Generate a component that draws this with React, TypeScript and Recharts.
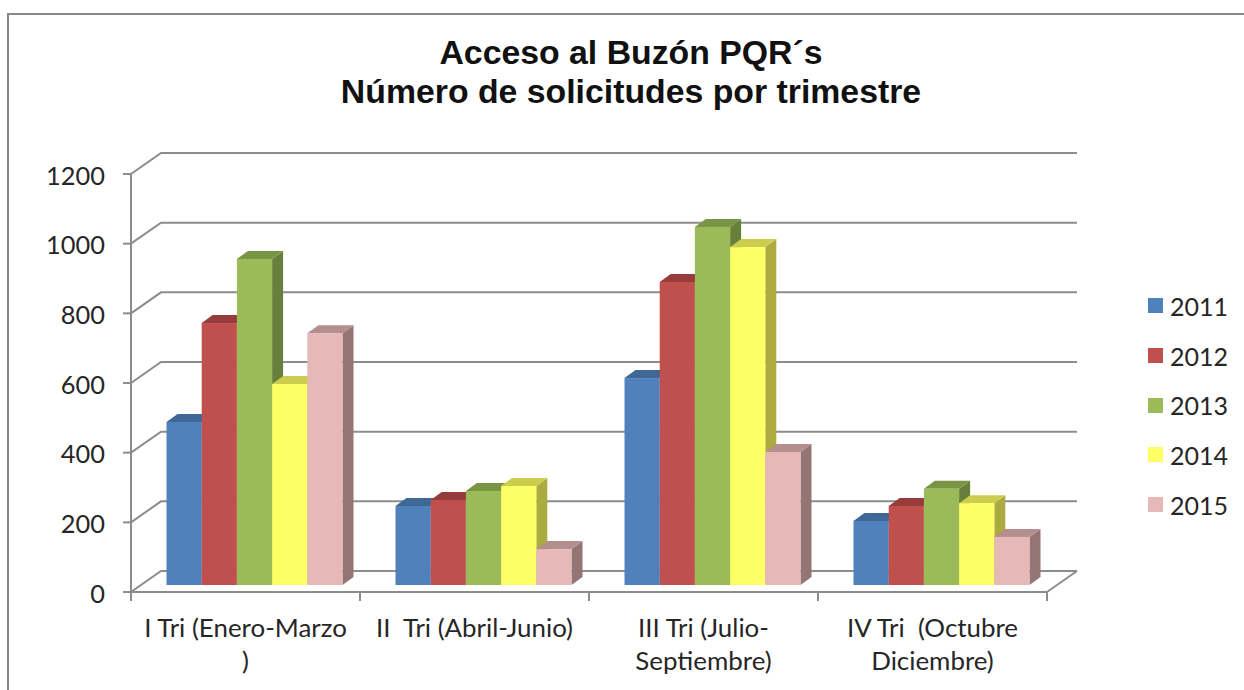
import React from "react";
import { ComposedChart, Bar, XAxis, YAxis, CartesianGrid, Legend } from "recharts";

const categories = [
  "I Tri (Enero-Marzo\n)",
  "II  Tri (Abril-Junio)",
  "III Tri (Julio-\nSeptiembre)",
  "IV Tri  (Octubre\nDiciembre)",
];
const v2011 = [468, 227, 594, 184];
const v2012 = [752, 244, 870, 227];
const v2013 = [936, 270, 1028, 276];
const v2014 = [577, 284, 970, 235];
const v2015 = [723, 103, 382, 138];
const yTicks = [0, 200, 400, 600, 800, 1000, 1200];
const titleLines = ["Acceso al Buzón PQR´s", "Número de solicitudes por trimestre"];

const seriesList = [
  { key: "2011", values: v2011, front: "#4F81BD", top: "#3F6797", side: "#3A5F8D" },
  { key: "2012", values: v2012, front: "#C0504D", top: "#963D3B", side: "#8F3B39" },
  { key: "2013", values: v2013, front: "#9BBB59", top: "#7A9446", side: "#667F3A" },
  { key: "2014", values: v2014, front: "#FFFF66", top: "#CCCC4F", side: "#ABAB3F" },
  { key: "2015", values: v2015, front: "#E6B9B8", top: "#B48F8E", side: "#957573" },
];

const rows = categories.map((name, i) => {
  const row: Record<string, string | number> = { name };
  seriesList.forEach((s) => (row[s.key] = s.values[i]));
  return row;
});

const W = 1244;
const H = 690;
const LEFT = 131;
const RIGHT = 1047;
const TOP = 174;
const BOTTOM = 592;
const LEGEND_W = 96;
const BAND = (RIGHT - LEFT) / categories.length;
const WALL_DX = 30;
const WALL_DY = 21;
const FLOOR_DX = 8.5;
const FLOOR_DY = 7;
const DEPTH_DX = 11;
const DEPTH_DY = 8;
const AXIS = "#8C8C8C";
const FONT = "Lato, 'Noto Sans', sans-serif";
const TEXT = "#262626";

function Box3D(props: any) {
  const { x, y, width, height, fill, topFill, sideFill } = props;
  const l = x + FLOOR_DX;
  const t = y - FLOOR_DY;
  const r = l + width;
  const b = t + height;
  return (
    <g>
      <polygon
        points={`${r},${t} ${r + DEPTH_DX},${t - DEPTH_DY} ${r + DEPTH_DX},${b - DEPTH_DY} ${r},${b}`}
        fill={sideFill}
      />
      <polygon
        points={`${l},${t} ${l + DEPTH_DX},${t - DEPTH_DY} ${r + DEPTH_DX},${t - DEPTH_DY} ${r},${t}`}
        fill={topFill}
      />
      <rect x={l} y={t} width={width} height={height} fill={fill} />
    </g>
  );
}

function WallLine(props: any) {
  const { x1, y1, x2, y2 } = props;
  const isFloor = Math.abs(y1 - BOTTOM) < 1;
  return (
    <g>
      <polyline
        points={`${x1},${y1} ${x1 + WALL_DX},${y1 - WALL_DY} ${x2 + WALL_DX},${y2 - WALL_DY}`}
        fill="none"
        stroke={AXIS}
        strokeWidth={2}
      />
      {isFloor && (
        <line x1={x2} y1={y2} x2={x2 + WALL_DX} y2={y2 - WALL_DY} stroke={AXIS} strokeWidth={2} />
      )}
    </g>
  );
}

function CategoryTick(props: any) {
  const { x, y, payload, index } = props;
  const lines = String(payload.value).split("\n");
  const left = x - BAND / 2;
  return (
    <g>
      <line x1={left} y1={BOTTOM} x2={left} y2={BOTTOM + 9} stroke={AXIS} strokeWidth={2} />
      {index === categories.length - 1 && (
        <line x1={left + BAND} y1={BOTTOM} x2={left + BAND} y2={BOTTOM + 9} stroke={AXIS} strokeWidth={2} />
      )}
      <text
        x={x}
        y={y}
        textAnchor="middle"
        fontFamily={FONT}
        fontSize={25.9}
        fill={TEXT}
        style={{ whiteSpace: "pre" }}
      >
        {lines.map((line, i) => (
          <tspan key={i} x={x} y={y + 43 + i * 33}>
            {line}
          </tspan>
        ))}
      </text>
    </g>
  );
}

function LegendList(props: any) {
  const items = props.payload || [];
  return (
    <div>
      {items.map((it: any) => (
        <div
          key={it.value}
          style={{
            display: "flex",
            alignItems: "center",
            height: 49.7,
            fontFamily: FONT,
            fontSize: 25,
            color: TEXT,
          }}
        >
          <span style={{ width: 15, height: 15, background: it.color, marginRight: 7 }} />
          {it.value}
        </div>
      ))}
    </div>
  );
}

export default function App() {
  return (
    <div style={{ position: "absolute", left: 0, top: 0, width: W, height: H, overflow: "hidden", background: "#fff" }}>
      <div
        style={{
          position: "absolute",
          left: 7,
          top: 13,
          width: W,
          height: H,
          borderLeft: "2px solid #888",
          borderTop: "2px solid #888",
        }}
      />
      <div
        style={{
          position: "absolute",
          left: 0,
          top: 33,
          width: 1262,
          textAlign: "center",
          fontFamily: "'Liberation Sans', Arial, sans-serif",
          fontWeight: 700,
          fontSize: 33.8,
          lineHeight: "39px",
          color: "#111",
        }}
      >
        {titleLines.map((t) => (
          <div key={t}>{t}</div>
        ))}
      </div>
      <div style={{ position: "absolute", left: 0, top: 0 }}>
        <ComposedChart
          width={W}
          height={H}
          data={rows}
          barGap={0}
          barSize={35.2}
          margin={{ left: LEFT - 90, right: W - RIGHT - LEGEND_W, top: TOP, bottom: H - BOTTOM - 90 }}
        >
          <CartesianGrid vertical={false} horizontal={(p: any) => <WallLine key={p.key} {...p} />} />
          <XAxis
            dataKey="name"
            height={90}
            interval={0}
            tickLine={false}
            tickSize={0}
            tick={CategoryTick}
            axisLine={{ stroke: AXIS, strokeWidth: 2 }}
          />
          <YAxis
            width={90}
            domain={[0, 1200]}
            ticks={yTicks}
            interval={0}
            tickSize={8}
            tickMargin={18}
            axisLine={{ stroke: AXIS, strokeWidth: 2 }}
            tickLine={{ stroke: AXIS, strokeWidth: 2 }}
            tick={{ fontFamily: FONT, fontSize: 25.4, fill: TEXT, dy: 1.5 }}
          />
          <Legend
            layout="vertical"
            align="right"
            verticalAlign="top"
            content={<LegendList />}
            wrapperStyle={{ left: 1148, right: "auto", top: 281, width: LEGEND_W }}
          />
          {seriesList.map((s) => (
            <Bar
              key={s.key}
              dataKey={s.key}
              name={s.key}
              fill={s.front}
              isAnimationActive={false}
              shape={(p: any) => <Box3D {...p} topFill={s.top} sideFill={s.side} />}
            />
          ))}
        </ComposedChart>
      </div>
    </div>
  );
}
